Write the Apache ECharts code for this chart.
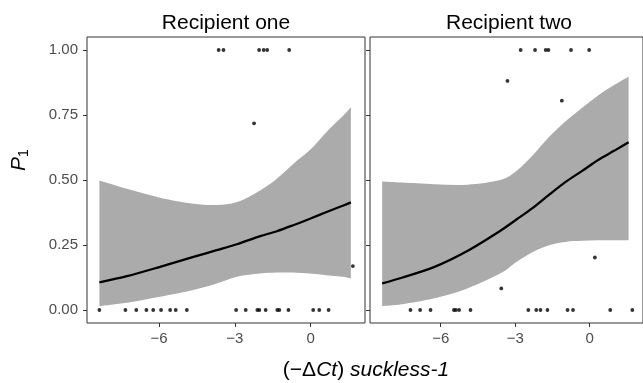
<!DOCTYPE html>
<html><head><meta charset="utf-8">
<script src="https://cdn.jsdelivr.net/npm/echarts@6/dist/echarts.min.js"></script>
<style>html,body{margin:0;padding:0;background:#fff}#c{width:643px;height:383px}</style>
</head><body><div id="c"></div>
<script>
const panelTitles = ['Recipient one', 'Recipient two'];
const xTicks = [-6, -3, 0];
const yTicks = [0, 0.25, 0.5, 0.75, 1];

// Recipient one: fitted curve and confidence band
const oneFitX   = [-8.36, -7.27, -5.96, -4.64, -3.72, -2.92, -2.00, -1.34, -0.69, -0.03, 0.63, 1.29, 1.59];
const oneFit    = [0.106, 0.130, 0.166, 0.204, 0.230, 0.253, 0.284, 0.303, 0.326, 0.351, 0.377, 0.402, 0.414];
const oneUpper  = [0.498, 0.466, 0.432, 0.409, 0.404, 0.415, 0.460, 0.505, 0.562, 0.615, 0.685, 0.748, 0.780];
const oneLower  = [0.015, 0.028, 0.051, 0.077, 0.102, 0.128, 0.140, 0.144, 0.144, 0.140, 0.134, 0.128, 0.121];
// Recipient one: observations
const oneZeroX  = [-8.36, -7.33, -6.90, -6.50, -6.23, -5.92, -5.56, -5.34, -4.90, -2.95, -2.57, -2.11, -2.03, -1.78, -1.32, -1.24, -0.88, 0.10, 0.34, 0.71];
const oneOneX   = [-3.64, -3.45, -2.04, -1.86, -1.72, -0.85];
const oneOtherX = [-2.24, 1.67];
const oneOtherY = [0.718, 0.169];

// Recipient two: fitted curve and confidence band
const twoFitX   = [-8.36, -7.57, -6.25, -4.93, -3.61, -2.95, -2.29, -1.64, -0.98, -0.30, 0.34, 1.00, 1.57];
const twoFit    = [0.102, 0.124, 0.166, 0.227, 0.304, 0.348, 0.393, 0.443, 0.492, 0.535, 0.577, 0.613, 0.645];
const twoUpper  = [0.494, 0.490, 0.484, 0.482, 0.500, 0.535, 0.595, 0.665, 0.725, 0.778, 0.825, 0.866, 0.897];
const twoLower  = [0.015, 0.022, 0.045, 0.083, 0.140, 0.185, 0.223, 0.249, 0.262, 0.266, 0.268, 0.268, 0.268];
// Recipient two: observations
const twoZeroX  = [-7.22, -6.83, -6.41, -5.47, -5.39, -5.26, -4.80, -2.47, -2.15, -1.98, -1.70, -0.89, -0.67, 0.83, 1.72];
const twoOneX   = [-2.78, -2.20, -1.77, -1.66, -0.75, -0.02];
const twoOtherX = [-3.31, -1.12, 0.21, -3.56];
const twoOtherY = [0.881, 0.805, 0.202, 0.083];

const FONT = '"Liberation Sans", Arial, sans-serif';
const BAND = '#ababab';
const AXC = '#333333';
const LBL = '#4d4d4d';

const zip = (xs, ys) => xs.map((x, i) => [x, ys[i]]);
const consts = (xs, v) => xs.map(x => [x, v]);

// Catmull-Rom spline through pixel points -> SVG path commands
function splineCmds(p, start) {
  let d = start ? 'M' + p[0][0] + ',' + p[0][1] : 'L' + p[0][0] + ',' + p[0][1];
  for (let i = 0; i < p.length - 1; i++) {
    const p0 = p[Math.max(i - 1, 0)], p1 = p[i], p2 = p[i + 1], p3 = p[Math.min(i + 2, p.length - 1)];
    const c1x = p1[0] + (p2[0] - p0[0]) / 6, c1y = p1[1] + (p2[1] - p0[1]) / 6;
    const c2x = p2[0] - (p3[0] - p1[0]) / 6, c2y = p2[1] - (p3[1] - p1[1]) / 6;
    d += 'C' + c1x + ',' + c1y + ',' + c2x + ',' + c2y + ',' + p2[0] + ',' + p2[1];
  }
  return d;
}

function panelSeries(idx, fx, fit, up, lo, zx, ox, oxx, oyy) {
  return [
    { type: 'custom', xAxisIndex: idx, yAxisIndex: idx, data: [[fx[0], lo[0]]], silent: true, z: 1, clip: false,
      renderItem: (params, api) => {
        const upper = fx.map((x, i) => api.coord([x, up[i]]));
        const lower = fx.map((x, i) => api.coord([x, lo[i]])).reverse();
        const d = splineCmds(upper, true) + splineCmds(lower, false) + 'Z';
        return { type: 'path', shape: { pathData: d }, style: { fill: BAND, stroke: null } };
      } },
    { type: 'line', xAxisIndex: idx, yAxisIndex: idx, data: zip(fx, fit), symbol: 'none', smooth: 0.3,
      lineStyle: { color: '#000', width: 2.3 }, silent: true, z: 2 },
    { type: 'scatter', xAxisIndex: idx, yAxisIndex: idx,
      data: consts(zx, 0).concat(consts(ox, 1)).concat(zip(oxx, oyy)),
      symbolSize: 3.8, itemStyle: { color: '#000' }, silent: true, z: 3 }
  ];
}

const grids = [
  { left: 87, top: 37, width: 278, height: 286 },
  { left: 370, top: 37, width: 279, height: 286 }
].map(g => Object.assign(g, { show: true, borderColor: AXC, borderWidth: 1, backgroundColor: '#fff', containLabel: false }));

const xAxes = [0, 1].map(i => ({
  type: 'value', gridIndex: i, min: -8.85, max: 2.15,
  splitLine: { show: false }, axisLine: { show: false, onZero: false },
  axisTick: { show: true, length: 4, lineStyle: { color: AXC }, customValues: xTicks },
  axisLabel: { show: true, customValues: xTicks, color: LBL, fontSize: 15, fontFamily: FONT, margin: 8,
    formatter: v => (v < 0 ? '\u2212' + Math.abs(v) : String(v)) }
}));
const yAxes = [0, 1].map(i => ({
  type: 'value', gridIndex: i, min: -0.05, max: 1.05,
  splitLine: { show: false }, axisLine: { show: false, onZero: false },
  axisTick: { show: true, length: 4, lineStyle: { color: AXC }, customValues: yTicks },
  axisLabel: { show: i === 0, customValues: yTicks, color: LBL, fontSize: 15, fontFamily: FONT, margin: 9,
    formatter: v => v.toFixed(2) }
}));

const chart = echarts.init(document.getElementById('c'), null, { renderer: 'canvas' });
chart.setOption({
  animation: false,
  backgroundColor: '#fff',
  grid: grids,
  xAxis: xAxes,
  yAxis: yAxes,
  series: panelSeries(0, oneFitX, oneFit, oneUpper, oneLower, oneZeroX, oneOneX, oneOtherX, oneOtherY)
    .concat(panelSeries(1, twoFitX, twoFit, twoUpper, twoLower, twoZeroX, twoOneX, twoOtherX, twoOtherY)),
  graphic: [
    { type: 'text', x: 226, y: 23, style: { text: panelTitles[0], fill: '#000', fontSize: 21, fontFamily: FONT, align: 'center', verticalAlign: 'middle' } },
    { type: 'text', x: 509, y: 23, style: { text: panelTitles[1], fill: '#000', fontSize: 21, fontFamily: FONT, align: 'center', verticalAlign: 'middle' } },
    { type: 'text', x: 366, y: 370, style: {
        text: '(\u2212\u0394{i|Ct}) {i|suckless-1}', fill: '#000', fontSize: 21, fontFamily: FONT, align: 'center', verticalAlign: 'middle',
        rich: { i: { fontStyle: 'italic', fontSize: 21, fontFamily: FONT, fill: '#000' } } } },
    { type: 'text', x: 19, y: 160, rotation: Math.PI / 2, style: {
        text: '{i|P}{s|1}', fill: '#000', align: 'center', verticalAlign: 'middle',
        rich: { i: { fontStyle: 'italic', fontSize: 21, fontFamily: FONT, lineHeight: 24, fill: '#000' },
                s: { fontSize: 14, fontFamily: FONT, lineHeight: 14, verticalAlign: 'bottom', fill: '#000' } } } }
  ]
});
</script>
</body></html>
